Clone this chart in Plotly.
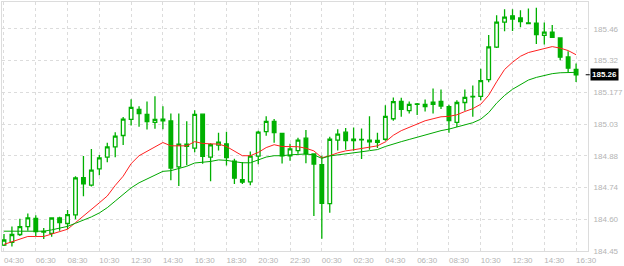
import pandas as pd
import plotly.graph_objects as go

# 30-minute candles, 04:30 day 1 -> 16:30 day 2
times = pd.date_range("2024-01-11 04:30", periods=73, freq="30min")

open_ = [184.477, 184.489, 184.525, 184.561, 184.598, 184.536, 184.530, 184.600, 184.575, 184.614,
         184.783, 184.749, 184.823, 184.877, 184.923, 184.975, 185.048, 185.094, 185.071, 185.035,
         185.049, 185.041, 184.832, 184.936, 184.918, 185.072, 184.877, 184.931, 184.937, 184.858,
         184.774, 184.764, 184.881, 184.993, 185.039, 184.985, 184.883, 184.906, 184.963, 184.891,
         184.842, 184.665, 184.954, 184.990, 184.958, 184.955, 184.954, 184.944, 184.958, 185.051,
         185.130, 185.088, 185.116, 185.106, 185.116, 185.130, 185.106, 185.035, 185.125, 185.153,
         185.153, 185.229, 185.377, 185.490, 185.519, 185.509, 185.487, 185.486, 185.430, 185.445,
         185.418, 185.332, 185.275]
high = [184.527, 184.561, 184.597, 184.620, 184.612, 184.554, 184.601, 184.606, 184.636, 184.790,
        184.882, 184.914, 184.886, 184.942, 184.990, 185.059, 185.140, 185.108, 185.130, 185.153,
        185.108, 185.075, 185.075, 185.040, 185.090, 185.072, 184.940, 184.988, 184.992, 184.869,
        184.855, 184.902, 184.997, 185.063, 185.050, 184.987, 184.937, 184.965, 185.000, 184.892,
        184.883, 184.969, 185.003, 185.009, 185.011, 185.007, 185.062, 184.988, 185.112, 185.148,
        185.146, 185.130, 185.123, 185.139, 185.188, 185.184, 185.115, 185.135, 185.184, 185.202,
        185.278, 185.432, 185.522, 185.549, 185.549, 185.544, 185.552, 185.556, 185.488, 185.477,
        185.418, 185.358, 185.302]
low = [184.473, 184.470, 184.518, 184.542, 184.518, 184.504, 184.515, 184.542, 184.549, 184.594,
       184.699, 184.743, 184.794, 184.853, 184.876, 184.932, 185.020, 185.015, 185.002, 185.006,
       185.003, 184.772, 184.745, 184.840, 184.899, 184.846, 184.767, 184.907, 184.839, 184.754,
       184.754, 184.749, 184.844, 184.974, 184.942, 184.848, 184.860, 184.892, 184.849, 184.609,
       184.506, 184.624, 184.907, 184.910, 184.906, 184.868, 184.910, 184.918, 184.951, 185.042,
       185.060, 185.075, 185.068, 185.084, 185.075, 185.095, 184.988, 185.014, 185.088, 185.060,
       185.135, 185.217, 185.373, 185.449, 185.450, 185.467, 185.484, 185.391, 185.388, 185.418,
       185.317, 185.263, 185.218]
close = [184.500, 184.525, 184.561, 184.601, 184.538, 184.539, 184.600, 184.579, 184.615, 184.782,
         184.755, 184.818, 184.873, 184.923, 184.972, 185.049, 185.103, 185.075, 185.038, 185.048,
         185.042, 184.827, 184.936, 184.926, 185.071, 184.880, 184.933, 184.945, 184.875, 184.781,
         184.763, 184.881, 184.990, 185.039, 184.988, 184.882, 184.914, 184.954, 184.891, 184.845,
         184.667, 184.958, 184.981, 184.952, 184.952, 184.957, 184.946, 184.953, 185.062, 185.129,
         185.094, 185.116, 185.119, 185.116, 185.126, 185.109, 185.043, 185.125, 185.148, 185.151,
         185.224, 185.378, 185.490, 185.513, 185.504, 185.493, 185.484, 185.434, 185.445, 185.421,
         185.331, 185.281, 185.251]

ma_fast = [184.480, 184.492, 184.504, 184.516, 184.516, 184.516, 184.527, 184.537, 184.549, 184.579,
           184.608, 184.637, 184.669, 184.700, 184.748, 184.790, 184.847, 184.883, 184.903, 184.924,
           184.943, 184.928, 184.928, 184.928, 184.947, 184.939, 184.937, 184.936, 184.925, 184.902,
           184.883, 184.883, 184.898, 184.920, 184.933, 184.925, 184.925, 184.924, 184.917, 184.905,
           184.874, 184.883, 184.896, 184.905, 184.910, 184.917, 184.924, 184.928, 184.946, 184.976,
           184.997, 185.013, 185.029, 185.042, 185.051, 185.060, 185.062, 185.069, 185.084, 185.097,
           185.117, 185.158, 185.219, 185.275, 185.308, 185.335, 185.352, 185.362, 185.372, 185.379,
           185.372, 185.361, 185.342]
ma_slow = [184.540, 184.540, 184.540, 184.540, 184.540, 184.540, 184.546, 184.553, 184.562, 184.576,
           184.590, 184.605, 184.623, 184.647, 184.677, 184.707, 184.737, 184.760, 184.778, 184.793,
           184.812, 184.815, 184.824, 184.835, 184.850, 184.853, 184.857, 184.864, 184.862, 184.856,
           184.851, 184.851, 184.865, 184.877, 184.883, 184.883, 184.887, 184.890, 184.891, 184.887,
           184.871, 184.882, 184.886, 184.891, 184.895, 184.901, 184.906, 184.911, 184.925, 184.937,
           184.947, 184.957, 184.967, 184.979, 184.988, 184.997, 185.004, 185.013, 185.023, 185.033,
           185.049, 185.079, 185.122, 185.157, 185.185, 185.208, 185.227, 185.239, 185.249, 185.256,
           185.260, 185.262, 185.262]

x_tick_labels = ["04:30", "06:30", "08:30", "10:30", "12:30", "14:30", "16:30", "18:30", "20:30",
                 "22:30", "00:30", "02:30", "04:30", "06:30", "08:30", "10:30", "12:30", "14:30", "16:30"]
y_tick_vals = [184.45, 184.594, 184.739, 184.883, 185.027, 185.171, 185.316, 185.46]
y_tick_labels = ["184.45", "184.60", "184.74", "184.88", "185.03", "185.177", "185.32", "185.46"]
last_price_label = "185.26"

GREEN = "#00b000"
GRID = "#dcdcdc"
TXT = "#b4b4b4"

fig = go.Figure()
fig.add_trace(go.Candlestick(
    x=times, open=open_, high=high, low=low, close=close,
    increasing=dict(line=dict(color=GREEN, width=1.3), fillcolor="white"),
    decreasing=dict(line=dict(color=GREEN, width=1.3), fillcolor=GREEN),
    whiskerwidth=0, showlegend=False, hoverinfo="skip",
))
fig.add_trace(go.Scatter(x=times, y=ma_fast, mode="lines",
                         line=dict(color="#ff2020", width=1), showlegend=False, hoverinfo="skip"))
fig.add_trace(go.Scatter(x=times, y=ma_slow, mode="lines",
                         line=dict(color="#00a800", width=1), showlegend=False, hoverinfo="skip"))

step = pd.Timedelta(minutes=30)
fig.update_layout(
    width=624, height=266,
    margin=dict(l=2, r=32, t=1, b=14),
    paper_bgcolor="white", plot_bgcolor="white",
    font=dict(family="Liberation Sans", size=8, color=TXT),
    boxgap=0.35,
    xaxis=dict(
        type="date",
        range=[times[0] - step * 0.25, times[0] + step * 73.5],
        rangeslider=dict(visible=False),
        tickmode="array", tickvals=list(times[::4]), ticktext=x_tick_labels,
        showgrid=True, gridcolor=GRID, griddash="3px,3px", gridwidth=1,
        showline=True, linecolor=GRID, linewidth=1, mirror=True,
        ticks="", ticklabelshift=10, ticklabelstandoff=1,
        tickfont=dict(family="Liberation Sans", size=8, color=TXT),
        zeroline=False, fixedrange=True,
    ),
    yaxis=dict(
        side="right",
        range=[184.45, 185.5817],
        tickmode="array", tickvals=y_tick_vals, ticktext=y_tick_labels,
        showgrid=True, gridcolor=GRID, griddash="3px,3px", gridwidth=1,
        showline=True, linecolor=GRID, linewidth=1, mirror=True,
        ticks="", ticklabelstandoff=3,
        tickfont=dict(family="Liberation Sans", size=8, color=TXT),
        zeroline=False, fixedrange=True,
    ),
)

# last price marker on the right axis
fig.add_shape(type="line", xref="paper", yref="y", x0=0.9961, x1=1.003,
              y0=close[-1], y1=close[-1], line=dict(color="black", width=1))
fig.add_annotation(xref="paper", yref="y", x=1.0029, y=close[-1], xanchor="left", yanchor="middle",
                   text="<b>" + last_price_label + "</b>", showarrow=False,
                   bgcolor="black", borderpad=1,
                   font=dict(family="Liberation Sans", size=8, color="white"))

fig.write_html("out.html")
